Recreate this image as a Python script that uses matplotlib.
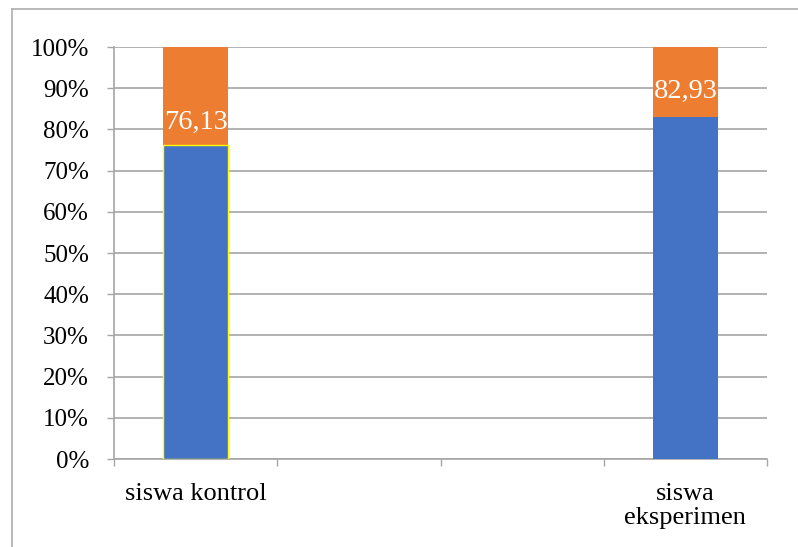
import matplotlib
matplotlib.use("Agg")
import matplotlib.pyplot as plt
from matplotlib.lines import Line2D
from matplotlib.ticker import FixedLocator, FuncFormatter

categories = ["siswa kontrol", "", "", "siswa\neksperimen"]
blue_vals = [76.13, None, None, 82.93]
label_texts = ["76,13", "", "", "82,93"]
y_ticks = [0, 10, 20, 30, 40, 50, 60, 70, 80, 90, 100]

plt.rcParams['font.family'] = ['Liberation Serif', 'DejaVu Serif']

fig = plt.figure(figsize=(7.98, 5.47), dpi=100)
ax = fig.add_axes([114/798, 1-459/547, (767-114)/798, (459-47)/547])

BLUE = "#4472C4"
ORANGE = "#ED7D31"
GRID = "#A6A6A6"

x = list(range(len(categories)))
for i, v in enumerate(blue_vals):
    if v is None:
        continue
    edge = "#FFFF00" if i == 0 else BLUE
    ax.bar(i, v, width=0.4, color=BLUE, edgecolor=edge, linewidth=1.0 if i == 0 else 0, zorder=3)
    ax.bar(i, 100 - v, bottom=v, width=0.4, color=ORANGE, linewidth=0, zorder=2)
    off = 5.5 if i == 0 else 6.3
    ax.text(i, v + off, label_texts[i], ha="center", va="center", color="white",
            fontsize=20.5, zorder=5)

ax.set_xlim(-0.5, len(categories) - 0.5)
ax.set_ylim(0, 100)

ax.yaxis.set_major_locator(FixedLocator(y_ticks))
ax.yaxis.set_major_formatter(FuncFormatter(lambda v, p: f"{int(v)}%"))
ax.tick_params(axis="y", length=5, width=1, color=GRID, labelsize=18, pad=13)
ax.grid(axis="y", color=GRID, linewidth=1.2, zorder=0)
ax.set_axisbelow(True)

ax.set_xticks(x)
ax.set_xticklabels(categories, fontsize=19, linespacing=1.12)
ax.tick_params(axis="x", which="major", length=0, pad=17)
ax.set_xticks([i - 0.5 for i in range(len(categories) + 1)], minor=True)
ax.tick_params(axis="x", which="minor", length=5, width=1, color=GRID)

for s in ["top", "right"]:
    ax.spines[s].set_visible(False)
for s in ["left", "bottom"]:
    ax.spines[s].set_color(GRID)
    ax.spines[s].set_linewidth(1.2)

# outer chart border
fig.add_artist(Line2D([11.5/798, 11.5/798], [0, 1-8.5/547], transform=fig.transFigure,
                      color="#B3B3B3", linewidth=1.3))
fig.add_artist(Line2D([11.5/798, 1], [1-8.5/547, 1-8.5/547], transform=fig.transFigure,
                      color="#B3B3B3", linewidth=1.3))

fig.savefig("out.png", dpi=100)
